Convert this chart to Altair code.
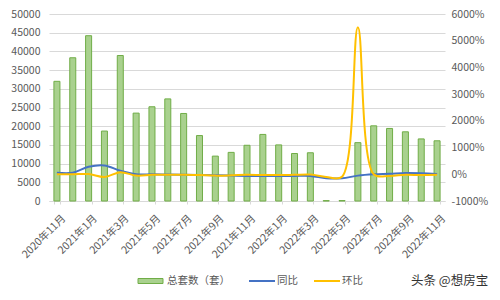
import altair as alt
import pandas as pd

months = ["2020年11月", "2020年12月", "2021年1月", "2021年2月", "2021年3月", "2021年4月",
          "2021年5月", "2021年6月", "2021年7月", "2021年8月", "2021年9月", "2021年10月",
          "2021年11月", "2021年12月", "2022年1月", "2022年2月", "2022年3月", "2022年4月",
          "2022年5月", "2022年6月", "2022年7月", "2022年8月", "2022年9月", "2022年10月",
          "2022年11月"]
total = [32000, 38300, 44200, 18700, 38900, 23500, 25200, 27300, 23400, 17500, 12000, 13000,
         14900, 17800, 15000, 12700, 12900, 100, 120, 15600, 20100, 19400, 18500, 16600, 16100]
yoy = [60, 60, 280, 330, 130, 0, 0, -10, -20, -30, -40, -50, -60, -60, -60, -60, -60,
       -150, -150, -50, 0, 20, 50, 40, 10]
mom = [0, 0, 10, -100, 80, -50, -20, -20, -20, -30, -50, -40, -20, -30, -30, -20, -10,
       -98, -90, 5500, 0, -60, -20, -30, -20]

FONT = "Noto Sans CJK SC"
GREY = "#595959"

df = pd.DataFrame({"month": months, "total": total, "同比": yoy, "环比": mom})

x = alt.X("month:N", sort=months, title=None,
          scale=alt.Scale(paddingInner=0.62, paddingOuter=0.31),
          axis=alt.Axis(values=months[::2], labelAngle=-45, labelFontSize=10.5,
                        labelColor=GREY, labelFont=FONT, domainColor="#d9d9d9",
                        tickColor="#d9d9d9", tickSize=3, tickBand="extent",
                        labelPadding=9, labelOffset=3))

bars = alt.Chart(df).mark_bar(color="#a9d18e", stroke="#70ad47", strokeWidth=1).encode(
    x=x,
    y=alt.Y("total:Q", title=None,
            scale=alt.Scale(domain=[0, 50000], nice=False),
            axis=alt.Axis(values=list(range(0, 50001, 5000)), labelFontSize=10.5,
                          labelColor=GREY, labelFont=FONT, domain=False, ticks=False,
                          gridColor="#d9d9d9", labelPadding=9, format="d")),
)

yr = alt.Y("value:Q", title=None,
           scale=alt.Scale(domain=[-1000, 6000], nice=False),
           axis=alt.Axis(orient="right", values=list(range(-1000, 6001, 1000)),
                         labelExpr="datum.value + '%'", labelFontSize=10.5,
                         labelColor=GREY, labelFont=FONT, domain=False, ticks=False,
                         grid=False, labelPadding=6))

blue = alt.Chart(df).transform_calculate(value="datum['同比']").mark_line(
    color="#4472c4", strokeWidth=2, interpolate="catmull-rom").encode(x=x, y=yr)
yellow = alt.Chart(df).transform_calculate(value="datum['环比']").mark_line(
    color="#ffc000", strokeWidth=2, interpolate="catmull-rom").encode(x=x, y=yr)

lines = alt.layer(blue, yellow)

one = alt.Data(values=[{"a": 1}])
leg_y = 267
legend_parts = [
    alt.Chart(one).mark_rect(color="#a9d18e", stroke="#70ad47", strokeWidth=1).encode(
        x=alt.value(89), x2=alt.value(114), y=alt.value(leg_y - 2.5), y2=alt.value(leg_y + 2.5)),
    alt.Chart(one).mark_text(align="left", baseline="middle", font=FONT, fontSize=10.5,
                             color=GREY).encode(
        x=alt.value(118), y=alt.value(leg_y), text=alt.value("总套数（套）")),
    alt.Chart(one).mark_rule(color="#4472c4", strokeWidth=2).encode(
        x=alt.value(200), x2=alt.value(226), y=alt.value(leg_y)),
    alt.Chart(one).mark_text(align="left", baseline="middle", font=FONT, fontSize=10.5,
                             color=GREY).encode(
        x=alt.value(228), y=alt.value(leg_y), text=alt.value("同比")),
    alt.Chart(one).mark_rule(color="#ffc000", strokeWidth=2).encode(
        x=alt.value(265), x2=alt.value(291), y=alt.value(leg_y)),
    alt.Chart(one).mark_text(align="left", baseline="middle", font=FONT, fontSize=10.5,
                             color=GREY).encode(
        x=alt.value(293), y=alt.value(leg_y), text=alt.value("环比")),
    alt.Chart(one).mark_text(align="left", baseline="middle", font=FONT, fontSize=12.5,
                             color="#333333").encode(
        x=alt.value(362), y=alt.value(leg_y), text=alt.value("头条 @想房宝")),
]

chart = alt.layer(bars, lines, *legend_parts).resolve_scale(y="independent").properties(
    width=396, height=187,
    autosize=alt.AutoSizeParams(type="none"),
    padding={"left": 49, "top": 14, "right": 55, "bottom": 99},
    background="white",
).configure_view(stroke=None)

chart.save("out.html", embed_options={"renderer": "svg", "actions": False})
